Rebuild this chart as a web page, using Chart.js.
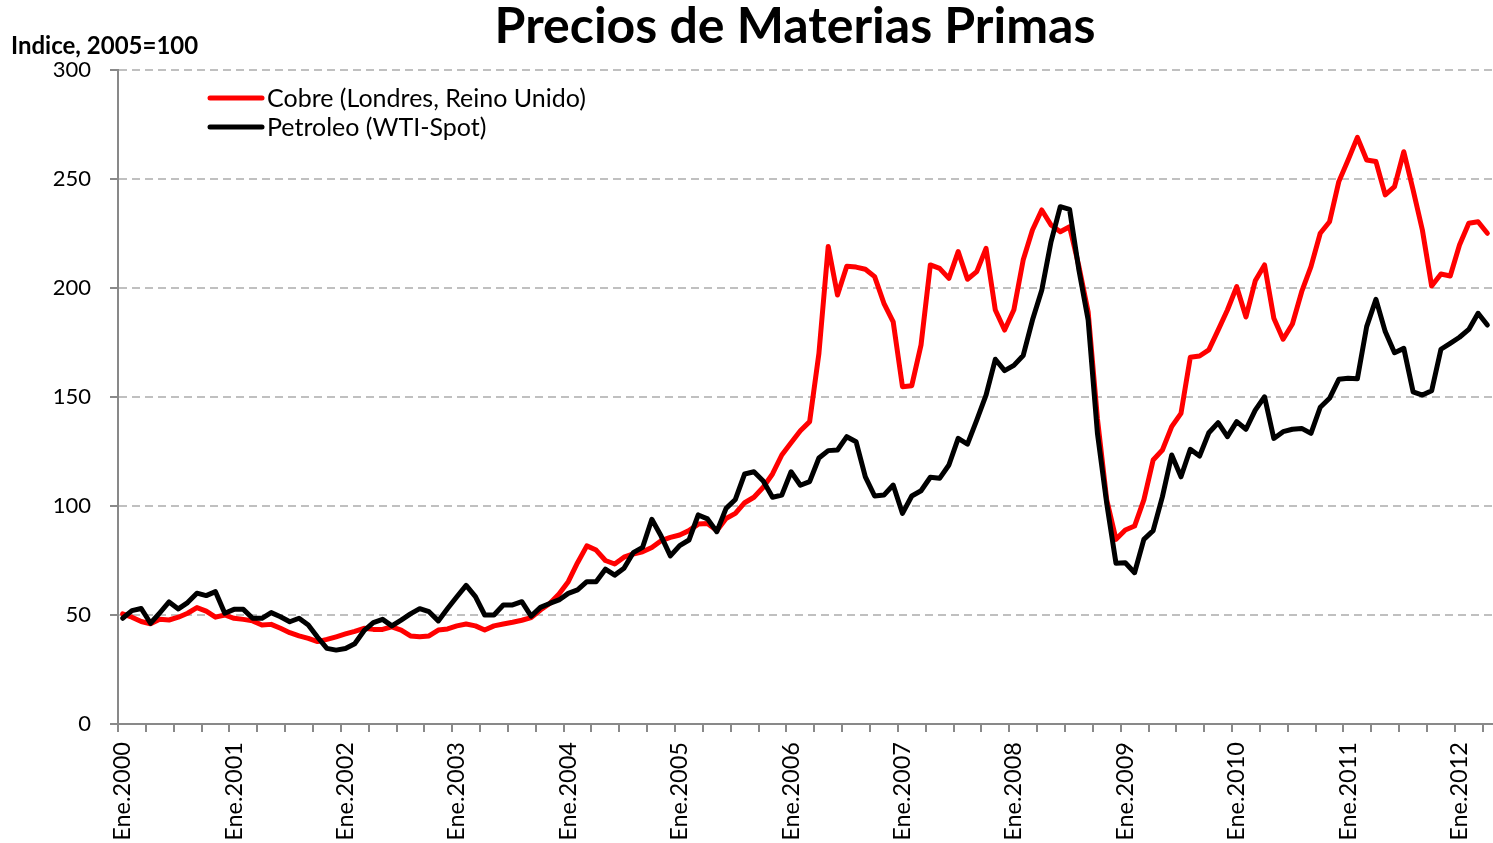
<!DOCTYPE html>
<html lang="es">
<head>
  <meta charset="UTF-8" />
  <title>Precios de Materias Primas</title>
  <script src="https://cdn.jsdelivr.net/npm/chart.js"></script>
  <style>
    html, body {
      margin: 0;
      padding: 0;
      background: #fff;
    }
    #grafico {
      display: block;
    }
  </style>
</head>
<body>
  <canvas id="grafico" width="1493" height="843"></canvas>

  <script>
    const titulo = "Precios de Materias Primas";
    const tituloEje = "Indice, 2005=100";
    const meses = ["Ene", "Feb", "Mar", "Abr", "May", "Jun", "Jul", "Ago", "Sep", "Oct", "Nov", "Dic"];
    const anioInicio = 2000;
    const ticksY = [0, 50, 100, 150, 200, 250, 300];

    // indice mensual, ene.2000 - abr.2012
    const cobre = [
      50.5, 49, 47, 46, 48, 47.7, 49, 50.8, 53.4, 51.8, 49, 50,
      48.5, 48, 47.3, 45.4, 45.7, 43.9, 41.9, 40.4, 39.3, 37.8, 38.8, 40,
      41.3, 42.5, 43.9, 43.4, 43.4, 44.6, 43.1, 40.4, 40, 40.4, 43.1, 43.6,
      45, 45.9, 45, 43.1, 45, 45.9, 46.7, 47.6, 48.8, 52.3, 55.3, 59.6,
      65.3, 74, 81.7, 79.8, 75, 73.4, 76.5, 78, 79, 81, 84.1, 85.6,
      86.7, 88.7, 91.7, 92, 88.7, 94.3, 96.6, 101.5, 104, 108.6, 114.7, 123.4,
      129, 134.5, 138.7, 170, 219, 196.8, 210, 209.6, 208.6, 205.2, 193, 184.5,
      154.7, 155.2, 173.9, 210.6, 209, 204.4, 216.7, 204, 207.5, 218.2, 189.9, 180.7,
      190, 212.8, 226.6, 235.8, 228.9, 225.8, 228.1, 210, 189, 140, 102.8, 84.7,
      89, 90.8, 102.8, 121.1, 125.7, 136.4, 142.5, 168.2, 168.8, 171.6, 180.7, 189.9,
      200.6, 186.7, 203.3, 210.6, 186.1, 176.5, 183.5, 198.3, 209.8, 225.1, 230.4, 248.8,
      258.7, 269.1, 258.7, 258, 242.7, 246.5, 262.5, 245, 226.6, 200.9, 206.4, 205.5,
      219.7, 229.7, 230.4, 225.1
    ];

    const petroleo = [
      48.5, 52, 53, 46.2, 51, 56, 52.8, 55.7, 60, 58.9, 60.7, 50.8,
      52.6, 52.6, 48.5, 48.5, 51.1, 49.2, 46.9, 48.5, 45.4, 39.8, 34.7, 33.9,
      34.6, 36.8, 42.8, 46.5, 48, 45, 47.7, 50.5, 52.9, 51.5, 47.3, 53,
      58.4, 63.6, 58.4, 50, 50, 54.6, 54.6, 56.1, 49.5, 53.5, 55.3, 56.9,
      59.9, 61.5, 65.3, 65.3, 71, 68.3, 71.4, 78.6, 81, 93.9, 86.2, 77.1,
      81.8, 84.4, 95.9, 94.1, 88.2, 98.9, 103, 114.7, 115.7, 111.5, 104, 105,
      115.7, 109.5, 111.2, 122, 125.4, 125.7, 131.8, 129.5, 113.4, 104.6, 105, 109.6,
      96.6, 104.6, 107, 113.2, 112.7, 118.8, 131, 128.4, 139.4, 150.9, 167.3, 162.1,
      164.5, 169, 185.3, 199, 221.2, 237.3, 236.1, 208.3, 185.3, 133.3, 101.2, 73.7,
      74, 69.4, 84.7, 88.7, 104.3, 123.4, 113.4, 126, 122.9, 133.6, 138.2, 131.8,
      138.7, 135.2, 144, 150.1, 131, 134.1, 135.2, 135.6, 133.3, 145.3, 149.4, 158.1,
      158.6, 158.4, 182.3, 194.8, 180, 170.3, 172.3, 152.4, 150.9, 152.9, 171.9, 174.6,
      177.4, 181, 188.4, 183
    ];

    const etiquetas = cobre.map((_, i) => meses[i % 12] + "." + (anioInicio + Math.floor(i / 12)));

    Chart.defaults.font.family = "Lato, 'DejaVu Sans', sans-serif";
    Chart.defaults.color = "#000";

    // titulo, nombre del eje y leyenda dentro del grafico
    const textos = {
      id: "textos",
      afterDraw(chart) {
        const ctx = chart.ctx;
        ctx.save();
        ctx.fillStyle = "#000";
        ctx.textBaseline = "alphabetic";

        ctx.font = "bold 50px Lato";
        ctx.textAlign = "center";
        ctx.fillText(titulo, 795, 43);

        ctx.font = "bold 24px Lato";
        ctx.textAlign = "left";
        ctx.fillText(tituloEje, 11, 54);

        ctx.font = "25px Lato";
        ctx.textBaseline = "middle";
        const orden = [0, 1];
        orden.forEach((k, fila) => {
          const ds = chart.data.datasets[k];
          const y = 98 + fila * 29;
          ctx.strokeStyle = ds.borderColor;
          ctx.lineWidth = 5;
          ctx.lineCap = "round";
          ctx.beginPath();
          ctx.moveTo(210, y);
          ctx.lineTo(262, y);
          ctx.stroke();
          ctx.fillText(ds.label, 267, y + 1);
        });
        ctx.restore();
      }
    };

    new Chart(document.getElementById("grafico"), {
      type: "line",
      data: {
        labels: etiquetas,
        datasets: [
          {
            label: "Cobre (Londres, Reino Unido)",
            data: cobre,
            borderColor: "#ff0000",
            borderWidth: 5,
            pointRadius: 0,
            tension: 0,
            borderJoinStyle: "round",
            borderCapStyle: "round",
            order: 1
          },
          {
            label: "Petroleo (WTI-Spot)",
            data: petroleo,
            borderColor: "#000000",
            borderWidth: 5,
            pointRadius: 0,
            tension: 0,
            borderJoinStyle: "round",
            borderCapStyle: "round",
            order: 0
          }
        ]
      },
      options: {
        responsive: false,
        devicePixelRatio: 1,
        animation: false,
        layout: {
          padding: { top: 70, right: 1, left: 0, bottom: 0 }
        },
        plugins: {
          legend: { display: false },
          tooltip: { enabled: false }
        },
        scales: {
          x: {
            type: "category",
            offset: true,
            afterFit(scale) {
              scale.height = 119;
              scale.paddingLeft = 0;
              scale.paddingRight = 0;
            },
            grid: {
              offset: true,
              drawOnChartArea: false,
              tickLength: 8,
              lineWidth: 2,
              color: (c) => (c.index % 3 === 0 ? "#898989" : "rgba(0,0,0,0)")
            },
            border: { display: true, color: "#898989", width: 2 },
            ticks: {
              autoSkip: false,
              minRotation: 90,
              maxRotation: 90,
              padding: 10,
              font: { size: 23.5 },
              callback: function (val, idx) {
                return idx % 12 === 0 ? this.getLabelForValue(val) : "";
              }
            }
          },
          y: {
            min: ticksY[0],
            max: ticksY[ticksY.length - 1],
            afterFit(scale) {
              scale.width = 118;
            },
            afterBuildTicks(scale) {
              scale.ticks = ticksY.map((v) => ({ value: v }));
            },
            grid: {
              color: "#c0c0c0",
              lineWidth: 2,
              tickLength: 8,
              tickColor: "#898989",
              tickWidth: 2
            },
            border: { display: true, color: "#898989", width: 2, dash: [8, 5] },
            ticks: {
              padding: 19,
              font: { size: 22 }
            }
          }
        }
      },
      plugins: [textos]
    });
  </script>
</body>
</html>
